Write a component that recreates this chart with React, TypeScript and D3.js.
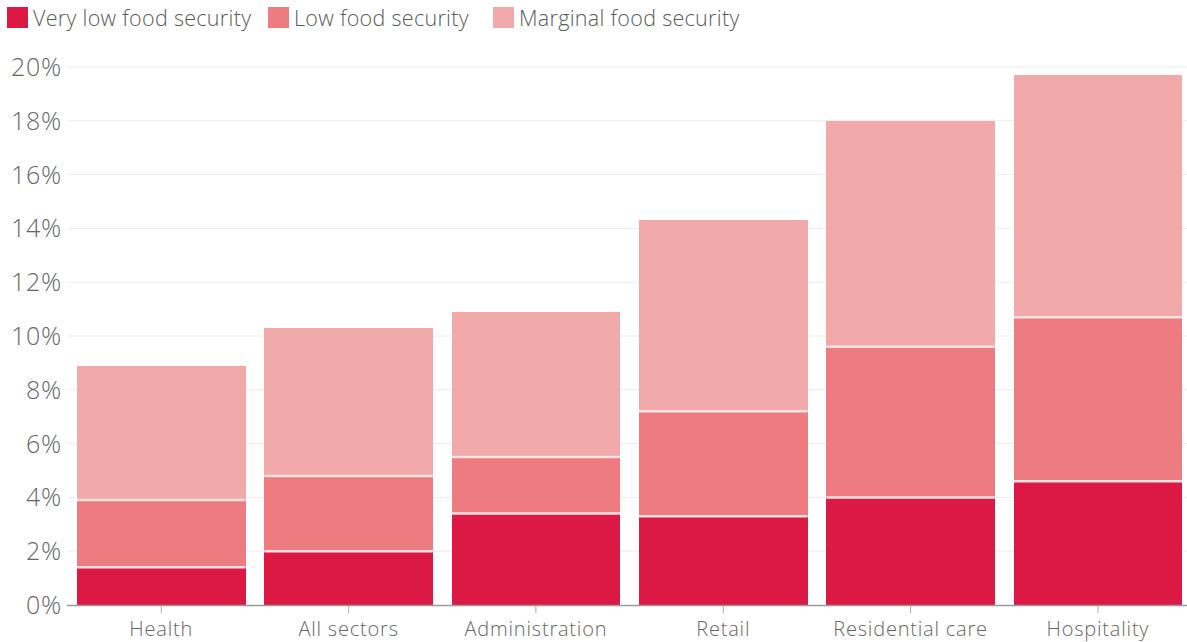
import React from "react";
import * as d3 from "d3";

const categories = ["Health", "All sectors", "Administration", "Retail", "Residential care", "Hospitality"];
const seriesNames = ["Very low food security", "Low food security", "Marginal food security"];
const veryLow = [1.4, 2.0, 3.4, 3.3, 4.0, 4.6];
const low = [2.5, 2.8, 2.1, 3.9, 5.6, 6.1];
const marginal = [5.0, 5.5, 5.4, 7.1, 8.4, 9.0];
const yTicks = [0, 2, 4, 6, 8, 10, 12, 14, 16, 18, 20];
const colors = ["#dc1944", "#ee7b7f", "#f2a9aa"];

const W = 1187;
const H = 642;
const FONT = "'Open Sans', sans-serif";

export default function App() {
  const x = d3.scaleBand<string>().domain(categories).range([67.6, 1191.6]).paddingInner(0.1).paddingOuter(0.05);
  const y = d3.scaleLinear().domain([0, 20]).range([605, 67]);
  const rows = categories.map((c, i) => ({ cat: c, v0: veryLow[i], v1: low[i], v2: marginal[i] }));
  const stack = d3.stack<any>().keys(["v0", "v1", "v2"])(rows);

  const legendX = [7, 268, 493];

  return (
    <div style={{ position: "absolute", left: 0, top: 0, width: W, height: H, background: "#fff" }}>
      <svg width={W} height={H} style={{ display: "block", fontFamily: FONT }}>
        {legendX.map((lx, i) => (
          <g key={i}>
            <rect x={lx} y={7} width={21} height={21} fill={colors[i]} />
            <text x={lx + 26} y={26} fontSize={21.5} fill="#5a5a5a" fontWeight={300} letterSpacing={0.3}>{seriesNames[i]}</text>
          </g>
        ))}
        {yTicks.map((t) => (
          <g key={t}>
            {t > 0 && <line x1={68} x2={W} y1={y(t)} y2={y(t)} stroke="#ececec" strokeWidth={1} />}
            <text x={62} y={y(t)} dy="0.36em" textAnchor="end" fontSize={25} fill="#666" fontWeight={300} letterSpacing={0.8}>{t}%</text>
          </g>
        ))}
        {stack.map((s, si) => (
          <g key={si}>
            {s.map((d, i) => (
              <rect
                key={i}
                x={x(categories[i])!}
                y={y(d[1])}
                width={x.bandwidth()}
                height={y(d[0]) - y(d[1])}
                fill={colors[si]}
                shapeRendering="crispEdges"
              />
            ))}
          </g>
        ))}
        {stack.slice(1).map((s, si) => (
          <g key={"sep" + si}>
            {s.map((d, i) => (
              <line key={i} x1={x(categories[i])!} x2={x(categories[i])! + x.bandwidth()} y1={y(d[0])} y2={y(d[0])} stroke="#fbe3e4" strokeWidth={2.5} />
            ))}
          </g>
        ))}
        <line x1={67} x2={W} y1={605.5} y2={605.5} stroke="#999" strokeWidth={1.5} />
        {categories.map((c) => {
          const cx = x(c)! + x.bandwidth() / 2;
          return (
            <g key={c}>
              <line x1={cx} x2={cx} y1={606} y2={613} stroke="#aaa" strokeWidth={1} />
              <text x={cx} y={636} textAnchor="middle" fontSize={20} fill="#666" fontWeight={300} letterSpacing={0.8}>{c}</text>
            </g>
          );
        })}
      </svg>
    </div>
  );
}
